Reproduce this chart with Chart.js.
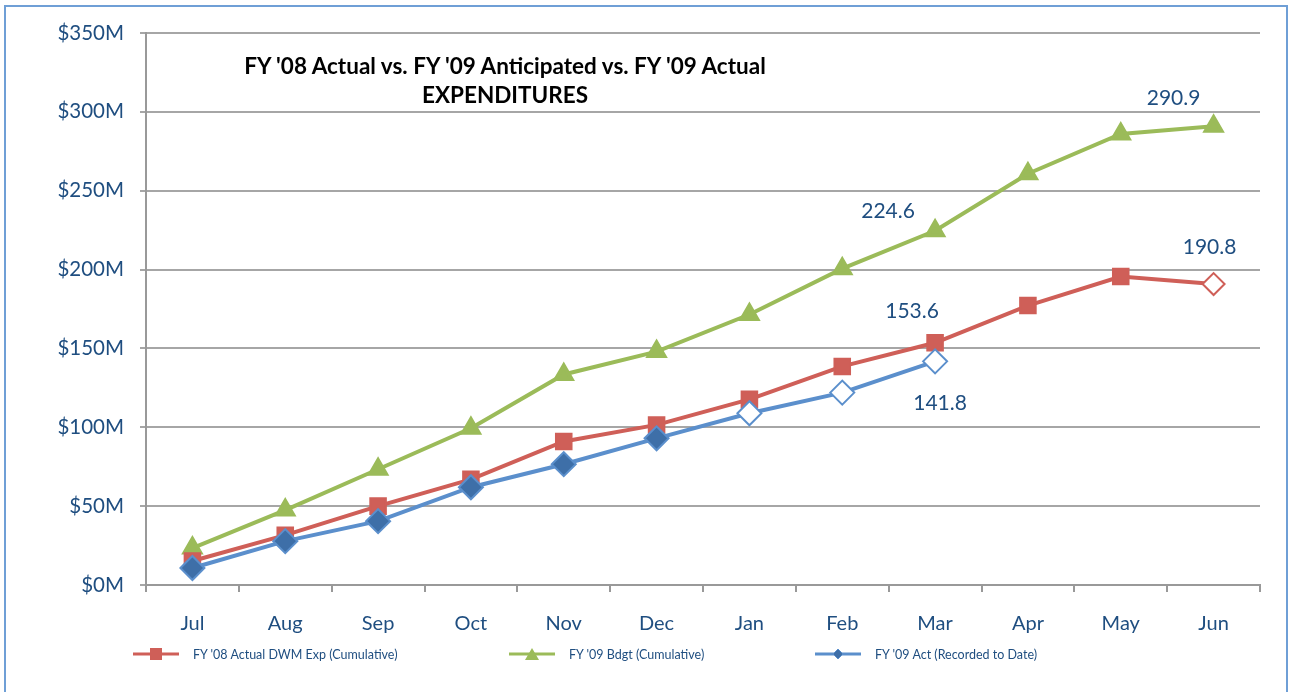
<html lang="en">
<head>
    <meta charset="UTF-8">
    <title>FY '08 Actual vs. FY '09 Anticipated vs. FY '09 Actual</title>
    <style>
        body { margin: 0; background: #fff; font-family: Lato, "Open Sans", sans-serif; }
        .wrap { position: relative; width: 1289px; height: 692px; overflow: hidden; }
        .frame {
            position: absolute; left: 4px; top: 5px; width: 1280px; height: 720px;
            border: 2px solid #6f9fd6;
        }
        #chart { position: absolute; left: 0; top: 0; }
        .title {
            position: absolute; left: 205px; width: 600px; text-align: center;
            font-weight: bold; font-size: 22.5px; color: #000;
        }
        .legend-item {
            position: absolute; top: 646px; height: 16px; display: flex; align-items: center;
            font-size: 12.5px; color: #1f4e80;
        }
        .legend-item svg { margin-right: 14px; }
    </style>
</head>
<body>
<div class="wrap">
    <div class="frame"></div>
    <canvas id="chart" width="1289" height="692"></canvas>
    <div class="title" style="top:52px">FY '08 Actual vs. FY '09 Anticipated vs. FY '09 Actual</div>
    <div class="title" style="top:81px">EXPENDITURES</div>

    <div class="legend-item" style="left:133px">
        <svg width="46" height="16"><line x1="0" y1="8" x2="46" y2="8" stroke="#cf5f58" stroke-width="3"/><rect x="17" y="2" width="12" height="12" fill="#cf5f58"/></svg>
        FY '08 Actual DWM Exp (Cumulative)
    </div>
    <div class="legend-item" style="left:509px">
        <svg width="46" height="16"><line x1="0" y1="8" x2="46" y2="8" stroke="#9bbb59" stroke-width="3"/><polygon points="23,2 30,14 16,14" fill="#9bbb59"/></svg>
        FY '09 Bdgt (Cumulative)
    </div>
    <div class="legend-item" style="left:815px">
        <svg width="46" height="16"><line x1="0" y1="8" x2="46" y2="8" stroke="#5b8fcc" stroke-width="3"/><polygon points="23,3 28,8 23,13 18,8" fill="#3e6fa8" stroke="#5b8fcc" stroke-width="1"/></svg>
        FY '09 Act (Recorded to Date)
    </div>
</div>

<script src="https://cdn.jsdelivr.net/npm/chart.js"></script>
<script>
    const months = ['Jul', 'Aug', 'Sep', 'Oct', 'Nov', 'Dec', 'Jan', 'Feb', 'Mar', 'Apr', 'May', 'Jun'];
    const fy08Actual = [15.2, 31.6, 50.0, 67.0, 91.0, 101.5, 117.7, 138.6, 153.6, 177.2, 195.6, 190.8];
    const fy09Budget = [23.4, 47.5, 73.4, 99.4, 133.5, 148.0, 171.5, 200.6, 224.6, 260.8, 286.0, 290.9];
    const fy09Actual = [10.8, 27.8, 40.5, 62.0, 76.6, 93.0, 108.9, 122.0, 141.8, null, null, null];
    const yTicks = [0, 50, 100, 150, 200, 250, 300, 350];

    // which points get a value label: [dataset index, point index, dx, dy]
    const valueLabels = [
        [1, 11, -40, -28],
        [1, 8, -47, -20],
        [0, 11, -4, -37],
        [0, 8, -23, -32],
        [2, 8, 5, 42]
    ];

    const red = '#cf5f58', green = '#9bbb59', blue = '#5b8fcc', blueDark = '#3e6fa8';

    const redStyle = months.map((m, i) => i === 11 ? 'rectRot' : 'rect');
    const redFill = months.map((m, i) => i === 11 ? '#fff' : red);
    const blueFill = months.map((m, i) => i >= 6 ? '#fff' : blueDark);

    const labelPlugin = {
        id: 'valueLabels',
        afterDatasetsDraw(chart) {
            const ctx = chart.ctx;
            ctx.save();
            ctx.font = '21px Lato, "Open Sans", sans-serif';
            ctx.fillStyle = '#1f4e80';
            ctx.textAlign = 'center';
            ctx.textBaseline = 'middle';
            valueLabels.forEach(([d, i, dx, dy]) => {
                const pt = chart.getDatasetMeta(d).data[i];
                const v = chart.data.datasets[d].data[i];
                ctx.fillText(v.toFixed(1), pt.x + dx, pt.y + dy);
            });
            ctx.restore();
        }
    };

    new Chart(document.getElementById('chart'), {
        type: 'line',
        data: {
            labels: months,
            datasets: [{
                label: "FY '08 Actual DWM Exp (Cumulative)",
                data: fy08Actual,
                borderColor: red,
                borderWidth: 4,
                backgroundColor: redFill,
                pointBackgroundColor: redFill,
                pointBorderColor: red,
                pointBorderWidth: 2,
                pointStyle: redStyle,
                pointRadius: 11,
                order: 2
            }, {
                label: "FY '09 Bdgt (Cumulative)",
                data: fy09Budget,
                borderColor: green,
                borderWidth: 4,
                backgroundColor: green,
                pointBackgroundColor: green,
                pointBorderColor: green,
                pointStyle: 'triangle',
                pointRadius: 9,
                order: 3
            }, {
                label: "FY '09 Act (Recorded to Date)",
                data: fy09Actual,
                borderColor: blue,
                borderWidth: 4,
                backgroundColor: blueFill,
                pointBackgroundColor: blueFill,
                pointBorderColor: blue,
                pointBorderWidth: 2,
                pointStyle: 'rectRot',
                pointRadius: 12,
                order: 1
            }]
        },
        options: {
            responsive: false,
            animation: false,
            layout: { padding: { left: 0, top: 33, right: 29, bottom: 52 } },
            plugins: { legend: { display: false }, tooltip: { enabled: false } },
            scales: {
                x: {
                    offset: true,
                    grid: { offset: true, drawOnChartArea: false, drawTicks: true, tickLength: 7, color: '#999', lineWidth: 2 },
                    border: { color: '#999', width: 2 },
                    ticks: { color: '#1f4e80', font: { size: 20, family: 'Lato' }, padding: 20 },
                    afterFit(scale) { scale.height = 55; }
                },
                y: {
                    min: 0,
                    max: 350,
                    afterBuildTicks(scale) { scale.ticks = yTicks.map(v => ({ value: v })); },
                    grid: { color: '#a6a6a6', lineWidth: 2, tickLength: 6 },
                    border: { color: '#999', width: 2 },
                    ticks: {
                        color: '#1f4e80', font: { size: 20.5, family: 'Lato' }, padding: 16,
                        callback: v => '$' + v + 'M'
                    },
                    afterFit(scale) { scale.width = 146; }
                }
            }
        },
        plugins: [labelPlugin]
    });
</script>
</body>
</html>
